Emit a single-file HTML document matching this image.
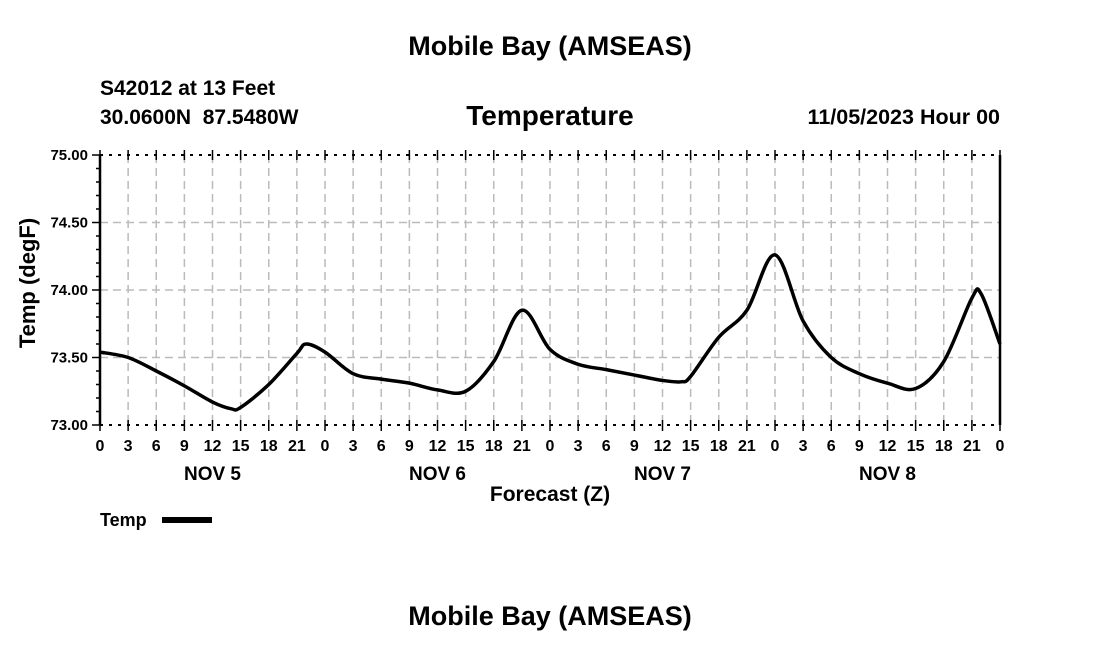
<!DOCTYPE html>
<html><head><meta charset="utf-8"><style>
body{margin:0;background:#fff}
svg text{font-family:"Liberation Sans",Arial,sans-serif;font-weight:bold;fill:#000}
</style></head><body>
<svg width="1100" height="650" viewBox="0 0 1100 650">
<text x="550" y="55" font-size="27" text-anchor="middle">Mobile Bay (AMSEAS)</text>
<text x="100" y="95" font-size="21">S42012 at 13 Feet</text>
<text x="100" y="124" font-size="21" xml:space="preserve">30.0600N  87.5480W</text>
<text x="550" y="125" font-size="28" text-anchor="middle">Temperature</text>
<text x="1000" y="124" font-size="21.5" text-anchor="end">11/05/2023 Hour 00</text>
<g id="plot"></g>
<text x="550" y="501" font-size="21" text-anchor="middle">Forecast (Z)</text>
<text transform="translate(35,283) rotate(-90)" font-size="22" text-anchor="middle">Temp (degF)</text>
<g>
<text x="100" y="526" font-size="18">Temp</text>
<rect x="162" y="517" width="50" height="6" fill="#000"></rect>
</g>
<text x="550" y="625" font-size="27" text-anchor="middle">Mobile Bay (AMSEAS)</text>
</svg>
<script>
const hours=[0,3,6,9,12,14,15,18,21,22,24,27,30,33,36,39,42,45,48,51,54,57,60,62,63,66,69,72,75,78,81,84,87,90,93,94,96];
const temps=[73.54,73.50,73.40,73.29,73.17,73.12,73.13,73.30,73.53,73.60,73.54,73.38,73.34,73.31,73.26,73.25,73.47,73.85,73.56,73.45,73.41,73.37,73.33,73.32,73.36,73.65,73.85,74.26,73.77,73.50,73.38,73.31,73.27,73.47,73.94,73.97,73.60];
const yTicks=[73.00,73.50,74.00,74.50,75.00];
const dayLabels=["NOV 5","NOV 6","NOV 7","NOV 8"];
const X0=100,X1=1000,Y0=425,Y1=155,HMAX=96,VMIN=73,VMAX=75;
const sx=h=>X0+(h/HMAX)*(X1-X0);
const sy=v=>Y0-(v-VMIN)/(VMAX-VMIN)*(Y0-Y1);
const NS="http://www.w3.org/2000/svg";
const g=document.getElementById('plot');
function mk(t,a){const e=document.createElementNS(NS,t);for(const k in a)e.setAttribute(k,a[k]);g.appendChild(e);return e;}
for(let h=3;h<HMAX;h+=3){const l=mk('line',{x1:sx(h),x2:sx(h),y1:Y1,y2:Y0,stroke:'#bbb','stroke-width':1.5,'stroke-dasharray':'8,5'});

}
yTicks.slice(1,-1).forEach(v=>{const l=mk('line',{x1:X0,x2:X1,y1:sy(v),y2:sy(v),stroke:'#bbb','stroke-width':1.5,'stroke-dasharray':'8,5'});

});
[Y1,Y0].forEach(y=>{const l=mk('line',{x1:X0,x2:X1,y1:y,y2:y,stroke:'#000','stroke-width':2,'stroke-dasharray':'3,6'});

});
[X0,X1].forEach(x=>{const l=mk('line',{x1:x,x2:x,y1:Y1,y2:Y0,stroke:'#000','stroke-width':2.5});

});
for(let v=VMIN;v<=VMAX+1e-9;v+=0.1){const y=sy(v);const major=Math.abs(v*2-Math.round(v*2))<1e-6;mk('line',{x1:X0-(major?8:4),x2:X0,y1:y,y2:y,stroke:'#000','stroke-width':1.5});}
yTicks.forEach(v=>{const t=mk('text',{x:X0-12,y:sy(v)+5,'font-size':15,'text-anchor':'end'});t.textContent=v.toFixed(2);

});
for(let h=0;h<=HMAX;h+=3){const x=sx(h);mk('line',{x1:x,x2:x,y1:Y1-5,y2:Y1+5,stroke:'#000','stroke-width':1.5});mk('line',{x1:x,x2:x,y1:Y0-5,y2:Y0+6,stroke:'#000','stroke-width':1.5});
const t=mk('text',{x:x,y:451,'font-size':16,'text-anchor':'middle'});t.textContent=String(h%24);

}
dayLabels.forEach((d,i)=>{const t=mk('text',{x:sx(i*24+12),y:480,'font-size':19,'text-anchor':'middle'});t.textContent=d;

});
const P=hours.map((h,i)=>[sx(h),sy(temps[i])]);
let d='M'+P[0][0]+','+P[0][1];
for(let i=0;i<P.length-1;i++){const p0=P[Math.max(0,i-1)],p1=P[i],p2=P[i+1],p3=P[Math.min(P.length-1,i+2)];
const c1=[p1[0]+(p2[0]-p0[0])/6,p1[1]+(p2[1]-p0[1])/6],c2=[p2[0]-(p3[0]-p1[0])/6,p2[1]-(p3[1]-p1[1])/6];
d+=' C'+c1+' '+c2+' '+p2;}
const line=mk('path',{d:d,fill:'none',stroke:'#000','stroke-width':3.5,'stroke-linejoin':'round'});


</script>
</body></html>
